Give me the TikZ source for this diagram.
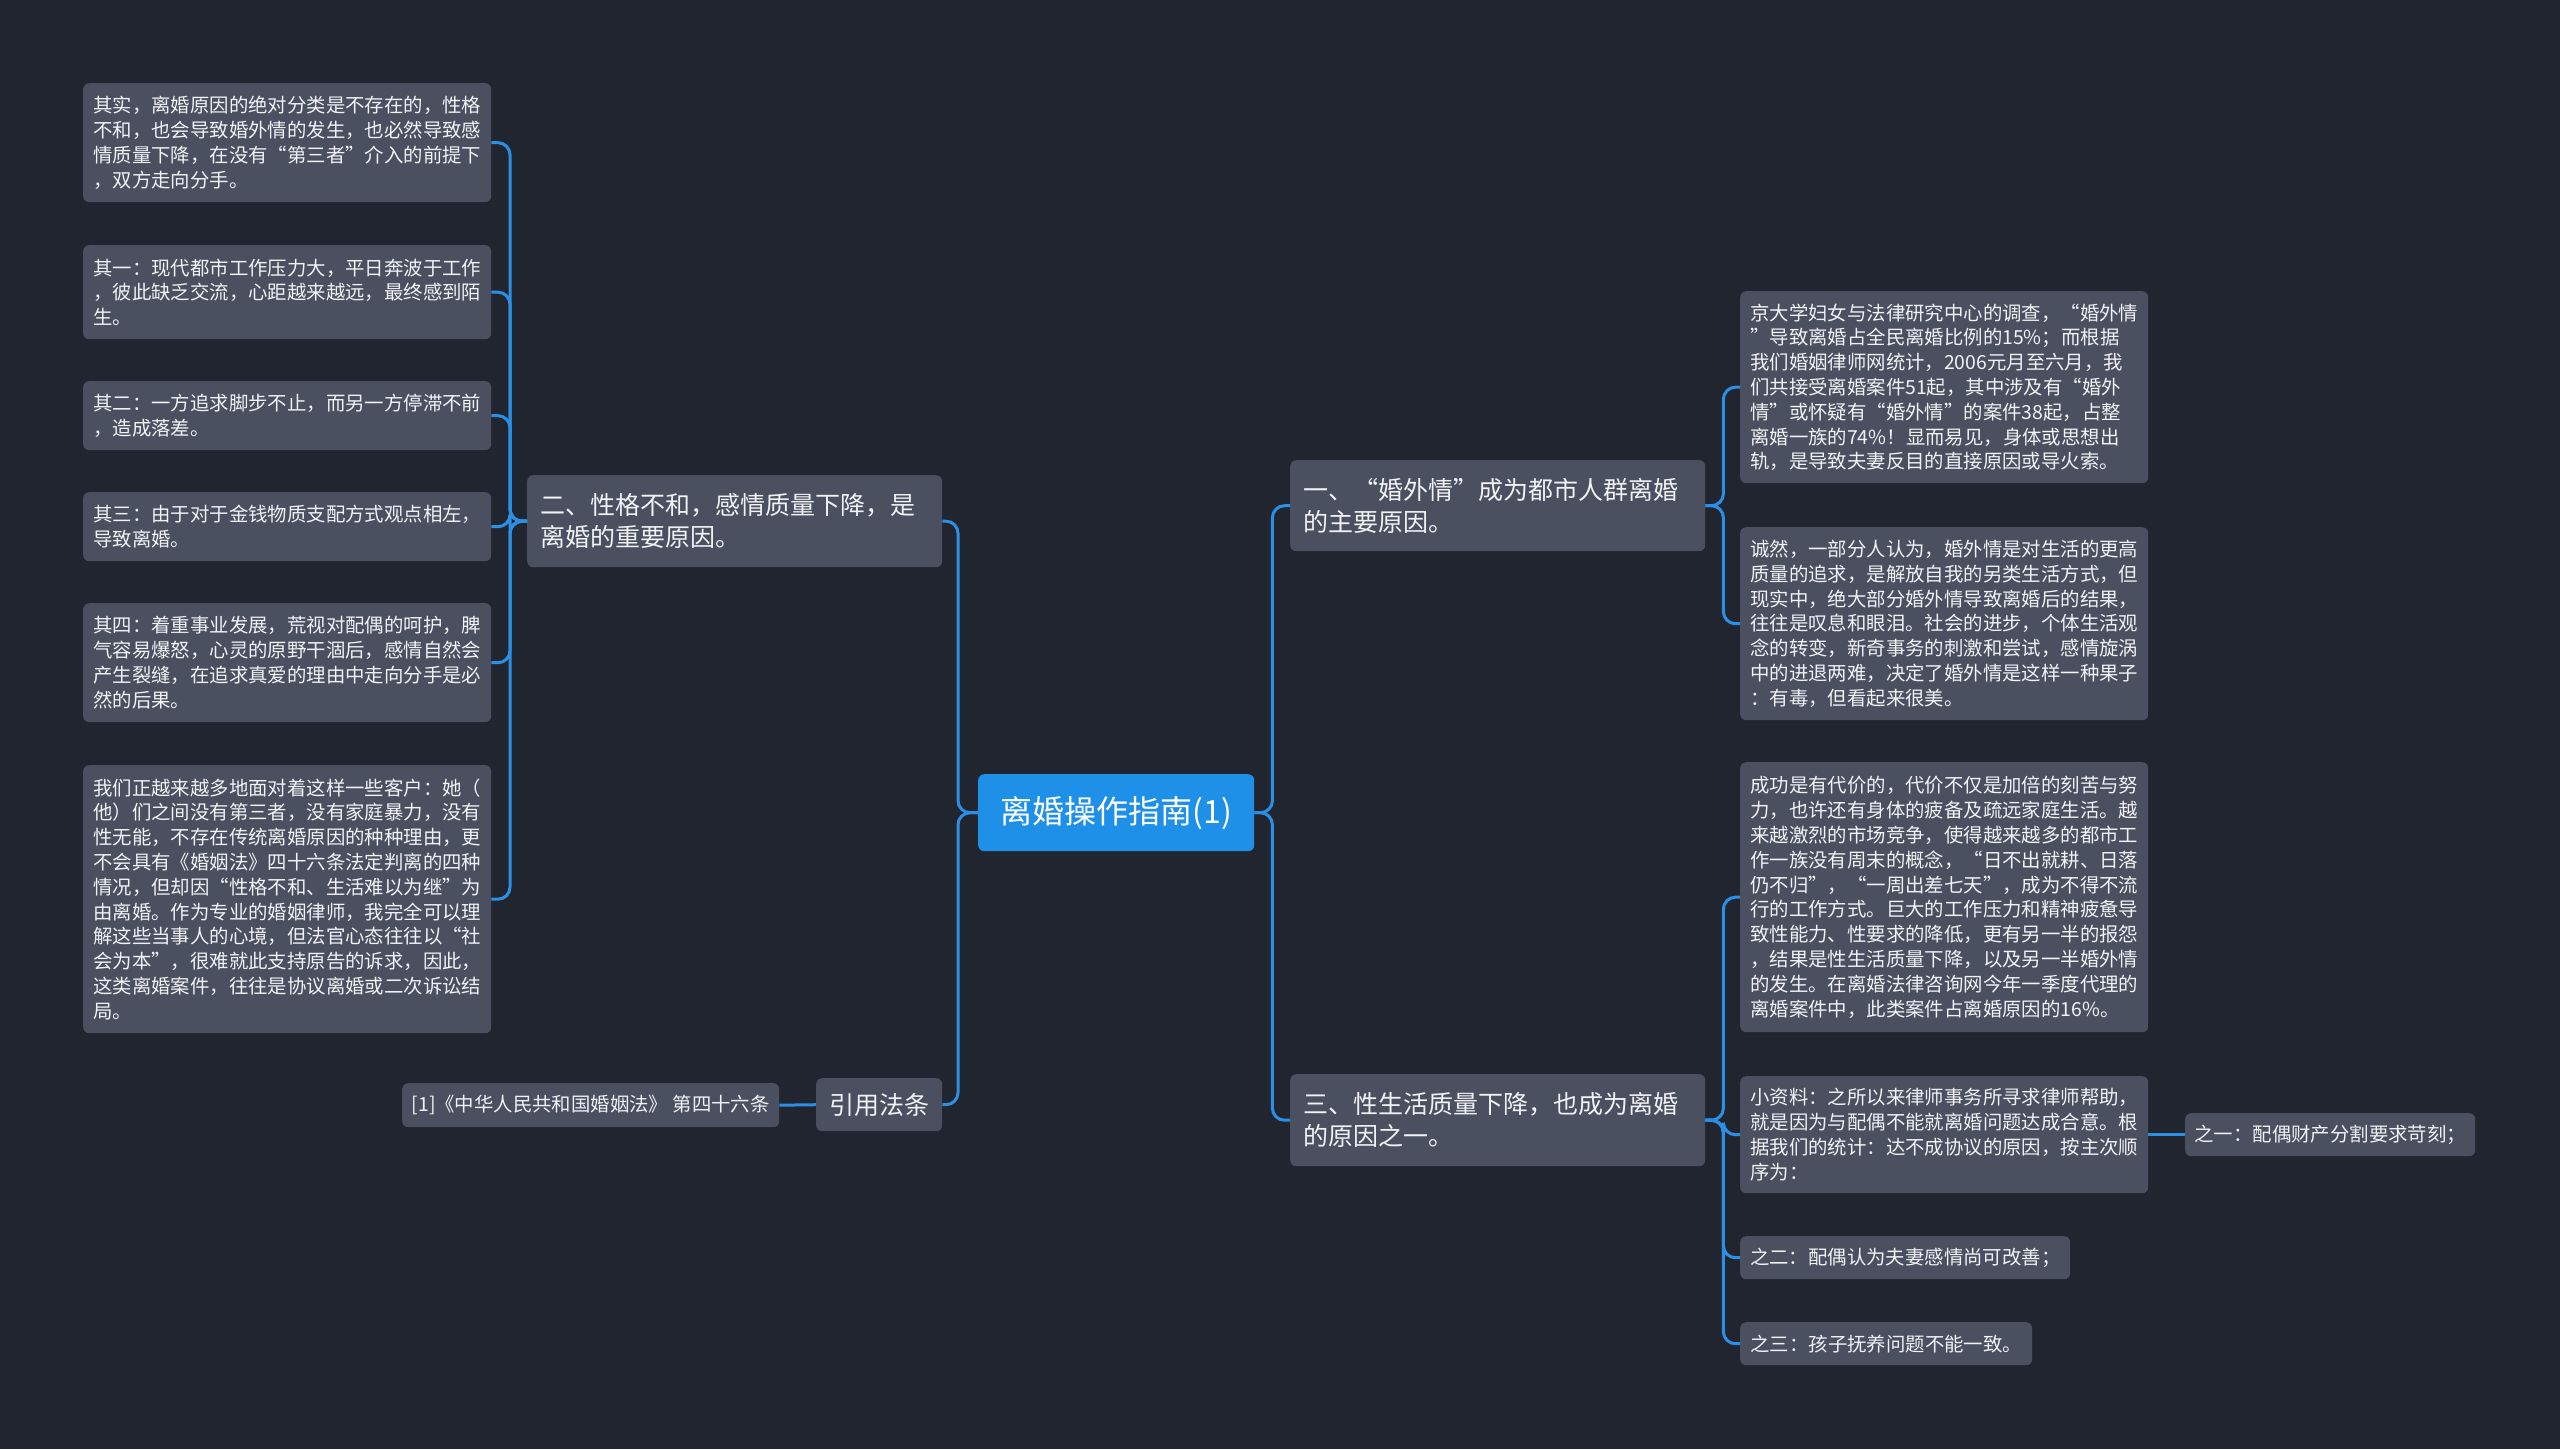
\documentclass[tikz,border=0pt]{standalone}
\usepackage{fontspec}
\setmainfont{Noto Sans CJK SC}
\definecolor{bgc}{HTML}{212530}
\definecolor{leafc}{HTML}{4A505F}
\definecolor{rootc}{HTML}{1E90E8}
\definecolor{linec}{HTML}{2B8FE6}
\definecolor{txtc}{HTML}{F0F2F5}
\tikzset{
  box/.style={anchor=north west, rounded corners=6pt, fill=leafc, text=txtc, align=left, inner sep=0pt},
  small/.style={font=\fontsize{19.4pt}{24.8pt}\selectfont},
  mid/.style={font=\fontsize{25pt}{32pt}\selectfont},
  midbox/.style={box, mid, inner xsep=13pt, inner ysep=0pt, text width=389pt},
  conn/.style={draw=linec, line width=3pt, rounded corners=12pt},
}
\begin{document}
\begin{tikzpicture}[x=1pt,y=-1pt]
\fill[bgc] (0,0) rectangle (2560,1449);
\useasboundingbox (0,0) rectangle (2560,1449);

% root
\node[box, fill=rootc, text=white, align=center, minimum width=276pt, minimum height=77pt,
  font=\fontsize{32pt}{38pt}\selectfont] (c) at (978,774) {离婚操作指南(1)};

% left main branches
\node[midbox, minimum height=92pt] (er) at (527,475)
 {二、性格不和，感情质量下降，是\\离婚的重要原因。};
\node[box, mid, align=center, minimum width=126pt, minimum height=53pt] (ref) at (816,1078) {引用法条};
\node[box, small, minimum width=377pt, minimum height=44pt] (cite) at (402,1083)
 {[1]《中华人民共和国婚姻法》 第四十六条};

% left leaves
\node[box, small, minimum width=408pt, minimum height=119pt] (l1) at (83,83)
 {其实，离婚原因的绝对分类是不存在的，性格\\不和，也会导致婚外情的发生，也必然导致感\\情质量下降，在没有“第三者”介入的前提下\\，双方走向分手。};
\node[box, small, minimum width=408pt, minimum height=94pt] (l2) at (83,245)
 {其一：现代都市工作压力大，平日奔波于工作\\，彼此缺乏交流，心距越来越远，最终感到陌\\生。};
\node[box, small, minimum width=408pt, minimum height=69pt] (l3) at (83,381)
 {其二：一方追求脚步不止，而另一方停滞不前\\，造成落差。};
\node[box, small, minimum width=408pt, minimum height=69pt] (l4) at (83,492)
 {其三：由于对于金钱物质支配方式观点相左，\\导致离婚。};
\node[box, small, minimum width=408pt, minimum height=119pt] (l5) at (83,603)
 {其四：着重事业发展，荒视对配偶的呵护，脾\\气容易爆怒，心灵的原野干涸后，感情自然会\\产生裂缝，在追求真爱的理由中走向分手是必\\然的后果。};
\node[box, small, minimum width=408pt, minimum height=268pt] (l6) at (83,765)
 {我们正越来越多地面对着这样一些客户：她（\\他）们之间没有第三者，没有家庭暴力，没有\\性无能，不存在传统离婚原因的种种理由，更\\不会具有《婚姻法》四十六条法定判离的四种\\情况，但却因“性格不和、生活难以为继”为\\由离婚。作为专业的婚姻律师，我完全可以理\\解这些当事人的心境，但法官心态往往以“社\\会为本”，很难就此支持原告的诉求，因此，\\这类离婚案件，往往是协议离婚或二次诉讼结\\局。};

% right main branches
\node[midbox, minimum height=91pt] (one) at (1290,460)
 {一、“婚外情”成为都市人群离婚\\的主要原因。};
\node[midbox, minimum height=92pt] (three) at (1290,1074)
 {三、性生活质量下降，也成为离婚\\的原因之一。};

% right leaves
\node[box, small, minimum width=408pt, minimum height=192pt] (ra) at (1740,291)
 {京大学妇女与法律研究中心的调查，“婚外情\\”导致离婚占全民离婚比例的15\%；而根据\\我们婚姻律师网统计，2006元月至六月，我\\们共接受离婚案件51起，其中涉及有“婚外\\情”或怀疑有“婚外情”的案件38起，占整\\离婚一族的74\%！显而易见，身体或思想出\\轨，是导致夫妻反目的直接原因或导火索。};
\node[box, small, minimum width=408pt, minimum height=193pt] (rb) at (1740,527)
 {诚然，一部分人认为，婚外情是对生活的更高\\质量的追求，是解放自我的另类生活方式，但\\现实中，绝大部分婚外情导致离婚后的结果，\\往往是叹息和眼泪。社会的进步，个体生活观\\念的转变，新奇事务的刺激和尝试，感情旋涡\\中的进退两难，决定了婚外情是这样一种果子\\：有毒，但看起来很美。};
\node[box, small, minimum width=408pt, minimum height=270pt] (rc) at (1740,762)
 {成功是有代价的，代价不仅是加倍的刻苦与努\\力，也许还有身体的疲备及疏远家庭生活。越\\来越激烈的市场竞争，使得越来越多的都市工\\作一族没有周末的概念，“日不出就耕、日落\\仍不归”，“一周出差七天”，成为不得不流\\行的工作方式。巨大的工作压力和精神疲惫导\\致性能力、性要求的降低，更有另一半的报怨\\，结果是性生活质量下降，以及另一半婚外情\\的发生。在离婚法律咨询网今年一季度代理的\\离婚案件中，此类案件占离婚原因的16\%。};
\node[box, small, minimum width=408pt, minimum height=117pt] (rd) at (1740,1076)
 {小资料：之所以来律师事务所寻求律师帮助，\\就是因为与配偶不能就离婚问题达成合意。根\\据我们的统计：达不成协议的原因，按主次顺\\序为：};
\node[box, small, minimum width=290pt, minimum height=43pt] (re) at (2185,1113)
 {之一：配偶财产分割要求苛刻；};
\node[box, small, minimum width=330pt, minimum height=43pt] (rf) at (1740,1236)
 {之二：配偶认为夫妻感情尚可改善；};
\node[box, small, minimum width=292pt, minimum height=43pt] (rg) at (1740,1322)
 {之三：孩子抚养问题不能一致。};

% connectors
\draw[conn] (c.west) -- ++(-20,0) |- (er.east);
\draw[conn] (c.west) -- ++(-20,0) |- (ref.east);
\draw[conn] (ref.west) -- (cite.east);
\foreach \n in {l1,l2,l3,l4,l5,l6}
  \draw[conn] (er.west) -- ++(-17,0) |- (\n.east);
\draw[conn] (c.east) -- ++(18,0) |- (one.west);
\draw[conn] (c.east) -- ++(18,0) |- (three.west);
\foreach \n in {ra,rb}
  \draw[conn] (one.east) -- ++(18,0) |- (\n.west);
\foreach \n in {rc,rd,rf,rg}
  \draw[conn] (three.east) -- ++(18,0) |- (\n.west);
\draw[conn] (rd.east) -- (re.west);
\end{tikzpicture}
\end{document}
